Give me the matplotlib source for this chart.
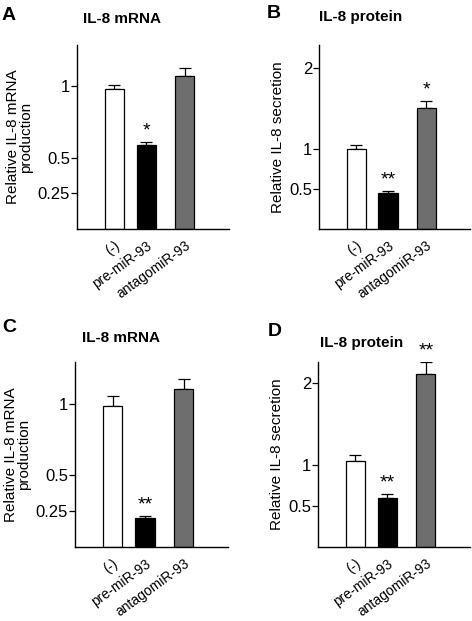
import numpy as np
import matplotlib
matplotlib.use("Agg")
import matplotlib.pyplot as plt

plt.rcParams['font.family'] = ['Liberation Sans', 'DejaVu Sans']

groups = ['(-)', 'pre-miR-93', 'antagomiR-93']
colors = ['white', 'black', '#6e6e6e']

# panel values
a_vals = [0.98, 0.59, 1.07]
a_err = [0.03, 0.02, 0.06]
b_vals = [1.00, 0.45, 1.50]
b_err = [0.04, 0.02, 0.09]
c_vals = [0.98, 0.20, 1.10]
c_err = [0.07, 0.015, 0.07]
d_vals = [1.05, 0.60, 2.11]
d_err = [0.07, 0.05, 0.15]

a_stars = ['', '*', '']
b_stars = ['', '**', '*']
c_stars = ['', '**', '']
d_stars = ['', '**', '**']

mrna_ticks = [0.25, 0.5, 1]
mrna_ticklabels = ['0.25', '0.5', '1']
prot_ticks = [0.5, 1, 2]
prot_ticklabels = ['0.5', '1', '2']

xpos = [0, 1, 2.2]

W, H = 472, 621
fig = plt.figure(figsize=(W / 100, H / 100), dpi=100)


def panel(rect, vals, err, stars, ticks, ticklabels, ymax, ylabel, letter, title, letter_xy, title_xy):
    l, t, r, b = rect
    ax = fig.add_axes([l / W, 1 - b / H, (r - l) / W, (b - t) / H])
    ax.bar(xpos, vals, width=0.6, color=colors, edgecolor='black', linewidth=0.9, zorder=2)
    for i in range(3):
        ax.errorbar(xpos[i], vals[i], yerr=[[0], [err[i]]], fmt='none', ecolor='black',
                    elinewidth=0.9, capsize=4, capthick=0.9, zorder=1)
        if stars[i]:
            ax.annotate(stars[i], (xpos[i], vals[i] + err[i]), xytext=(0, 2), textcoords='offset points',
                        ha='center', va='bottom', fontsize=14, annotation_clip=False)
    ax.set_xlim(-1.17, 3.58)
    ax.set_ylim(0, ymax)
    ax.spines['top'].set_visible(False)
    ax.spines['right'].set_visible(False)
    ax.spines['left'].set_linewidth(1.0)
    ax.spines['bottom'].set_linewidth(1.0)
    ax.set_yticks(ticks)
    ax.set_yticklabels(ticklabels, fontsize=12)
    ax.tick_params(axis='y', length=4, width=0.9, pad=1)
    ax.set_xticks(xpos)
    ax.set_xticklabels(groups, rotation=36, ha='right', rotation_mode='anchor', fontsize=10)
    ax.tick_params(axis='x', length=0, pad=7)
    ax.set_ylabel(ylabel, fontsize=11, labelpad=3, linespacing=1.0)
    fig.text(letter_xy[0] / W, 1 - letter_xy[1] / H, letter, fontsize=14, fontweight='bold', ha='left', va='center')
    fig.text(title_xy[0] / W, 1 - title_xy[1] / H, title, fontsize=11, fontweight='bold', ha='center', va='center')
    return ax


panel((77, 45, 229, 229), a_vals, a_err, a_stars, mrna_ticks, mrna_ticklabels, 1.29,
      'Relative IL-8 mRNA\nproduction', 'A', 'IL-8 mRNA', (2, 15), (122, 19))
panel((319, 45, 470, 229), b_vals, b_err, b_stars, prot_ticks, prot_ticklabels, 2.29,
      'Relative IL-8 secretion', 'B', 'IL-8 protein', (267, 13), (361, 17))
panel((75, 362, 228, 547), c_vals, c_err, c_stars, mrna_ticks, mrna_ticklabels, 1.29,
      'Relative IL-8 mRNA\nproduction', 'C', 'IL-8 mRNA', (2, 327), (121, 338))
panel((318, 362, 470, 547), d_vals, d_err, d_stars, prot_ticks, prot_ticklabels, 2.26,
      'Relative IL-8 secretion', 'D', 'IL-8 protein', (268, 332), (362, 343))

fig.savefig('out.png', dpi=100)
